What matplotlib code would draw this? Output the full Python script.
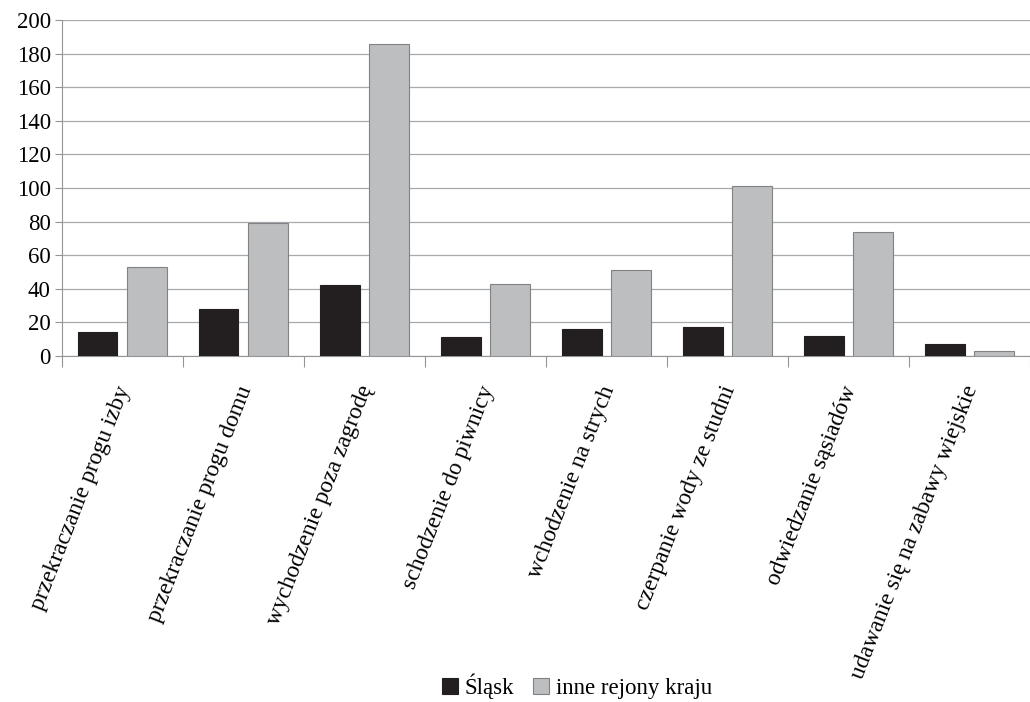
import numpy as np
import matplotlib.pyplot as plt

plt.rcParams['font.family'] = ['Liberation Serif', 'DejaVu Serif']

categories = ['przekraczanie progu izby', 'przekraczanie progu domu',
              'wychodzenie poza zagrodę', 'schodzenie do piwnicy',
              'wchodzenie na strych', 'czerpanie wody ze studni',
              'odwiedzanie sąsiadów', 'udawanie się na zabawy wiejskie']
slask = [14, 28, 42, 11, 16, 17, 12, 7]
inne = [53, 79, 186, 43, 51, 101, 74, 3]
yticks = list(range(0, 201, 20))

fig = plt.figure(figsize=(10.3, 7.02), dpi=100)
ax = fig.add_axes([0.060, 0.493, 0.94, 0.4785])

x = np.arange(len(categories))
w = 0.33
ax.bar(x - 0.205, slask, w, color='#231f20', edgecolor='#231f20', lw=0.8,
       label='Śląsk', zorder=3)
ax.bar(x + 0.205, inne, w, color='#bcbec0', edgecolor='#808285', lw=0.8,
       label='inne rejony kraju', zorder=3)

ax.set_xlim(-0.5, len(categories) - 0.5)
ax.set_ylim(0, 200)
ax.set_yticks(yticks)
ax.yaxis.grid(True, color='#a7a9ac', lw=0.9, zorder=0)
for s in ['top', 'right']:
    ax.spines[s].set_visible(False)
ax.spines['left'].set_color('#939598')
ax.spines['bottom'].set_color('#939598')
ax.tick_params(axis='y', labelsize=16.5, length=5, color='#939598', pad=3)

# group separators as ticks on the x axis
ax.set_xticks(np.arange(len(categories) + 1) - 0.5)
ax.set_xticklabels([])
ax.tick_params(axis='x', length=8, color='#939598')

for i, c in enumerate(categories):
    ax.annotate(c, xy=(i, 0), xycoords=('data', 'axes fraction'),
                xytext=(2, -22), textcoords='offset points',
                rotation=68.5, rotation_mode='anchor', ha='right', va='center',
                fontsize=17)

fig.legend(loc='lower center', bbox_to_anchor=(0.56, -0.025), ncol=2,
           frameon=False, fontsize=16.5, handlelength=0.7, handleheight=0.7,
           handletextpad=0.3, columnspacing=0.8)

fig.savefig('out.png', dpi=100)
